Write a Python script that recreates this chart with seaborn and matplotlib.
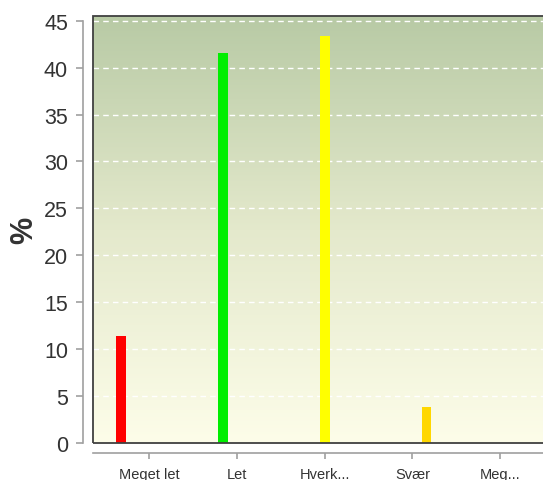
import numpy as np
import pandas as pd
import matplotlib
matplotlib.use("Agg")
import matplotlib.pyplot as plt
from matplotlib.colors import LinearSegmentedColormap
from matplotlib.patches import Rectangle
import seaborn as sns

categories = ["Meget let", "Let", "Hverk...", "Svær", "Meg..."]
values = [11.4, 41.6, 43.4, 3.8, 0.0]
colors = ["#ff0000", "#00ee00", "#ffff00", "#ffd700", "#cc3300"]
yticks = [0, 5, 10, 15, 20, 25, 30, 35, 40, 45]

sns.set_theme(style="white")
plt.rcParams["font.family"] = ["Liberation Sans", "DejaVu Sans"]

df = pd.DataFrame({"cat": categories, "val": values, "series": categories})

fig = plt.figure(figsize=(5.43, 4.81), dpi=100)
ax = fig.add_axes([93 / 543, 1 - 444 / 481, 1.01 - 93 / 543, (444 - 17) / 481])

# gradient background
cmap = LinearSegmentedColormap.from_list("bg", ["#fdfde9", "#e4e9cc", "#b8caa5"])
grad = np.linspace(0, 1, 256).reshape(-1, 1)
ax.imshow(grad, extent=(0, 1, 0, 1), transform=ax.transAxes, aspect="auto",
          cmap=cmap, origin="lower", zorder=0, interpolation="bicubic")

sns.barplot(data=df, x="cat", y="val", hue="series", order=categories,
            hue_order=categories, palette=colors, dodge=True, width=0.8,
            gap=0.3, legend=False, ax=ax, zorder=3, linewidth=0, saturation=1)

ax.set_xlim(-0.64, 4.55)
ax.set_ylim(0, 45.5)
ax.set_yticks(yticks)
ax.set_yticklabels([str(v) for v in yticks])

for y in yticks[1:]:
    ax.axhline(y, color="white", lw=1.0, ls=(0, (4, 3)), zorder=1)

for s in ["top", "right"]:
    ax.spines[s].set_visible(False)
for s in ["left", "bottom"]:
    ax.spines[s].set_position(("outward", 7))
    ax.spines[s].set_color("#a0a0a0")
    ax.spines[s].set_linewidth(1.2)
ax.spines["left"].set_bounds(0, 45)

ax.add_patch(Rectangle((0, 0), 1, 1, transform=ax.transAxes, fill=False,
                       edgecolor="#404040", lw=1.3, clip_on=False, zorder=5))

ax.tick_params(axis="y", which="both", left=True, length=5, width=1.2,
               color="#a0a0a0", labelsize=15.5, labelcolor="#333333", pad=6)
ax.tick_params(axis="x", which="both", bottom=True, length=4, width=1.2,
               color="#a0a0a0", labelsize=10.5, labelcolor="#333333", pad=6)

ax.set_xlabel("")
ax.set_ylabel("%", fontsize=22, fontweight="bold", color="#333333", labelpad=3)

fig.savefig("out.png", dpi=100)
